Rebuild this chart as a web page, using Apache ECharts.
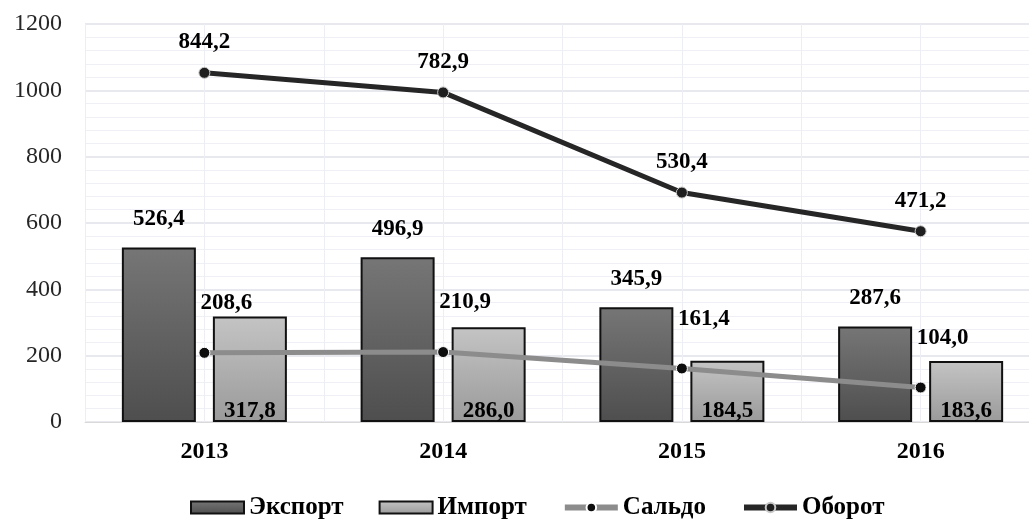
<!DOCTYPE html>
<html>
<head>
<meta charset="utf-8">
<script src="https://cdn.jsdelivr.net/npm/echarts@6/dist/echarts.min.js"></script>
<style>
html,body{margin:0;padding:0;background:#fff;overflow:hidden;width:1029px;height:519px;}
#c{width:1040px;height:519px;}
</style>
</head>
<body>
<div id="c"></div>
<script>
const years = ['2013', '2014', '2015', '2016'];
const exportVals = [526.4, 496.9, 345.9, 287.6];
const importVals = [317.8, 286.0, 184.5, 183.6];
const saldoVals = [208.6, 210.9, 161.4, 104.0];
const oborotVals = [844.2, 782.9, 530.4, 471.2];
const seriesNames = ['Экспорт', 'Импорт', 'Сальдо', 'Оборот'];

const FONT = '"Liberation Serif", "Times New Roman", serif';
const fmt = p => p.value.toFixed(1).replace('.', ',');
const labelBase = { show: true, fontFamily: FONT, fontSize: 23, fontWeight: 'bold', color: '#000', formatter: fmt };

const chart = echarts.init(document.getElementById('c'));
chart.setOption({
  animation: false,
  backgroundColor: '#fff',
  grid: { left: 85, right: 0, top: 24, bottom: 97, containLabel: false },
  legend: {
    left: 185, top: 490,
    itemWidth: 53, itemHeight: 12, itemGap: 35,
    textStyle: { fontFamily: FONT, fontSize: 25, fontWeight: 'bold', color: '#000' },
    data: [
      { name: seriesNames[0], icon: 'rect' },
      { name: seriesNames[1], icon: 'rect' },
      { name: seriesNames[2], lineStyle: { width: 6 } },
      { name: seriesNames[3], lineStyle: { width: 6 } }
    ]
  },
  xAxis: [{
    type: 'category', data: years,
    axisLine: { show: true, lineStyle: { color: '#d9d9d9', width: 1 } },
    axisTick: { show: false },
    axisLabel: { fontFamily: FONT, fontSize: 24, fontWeight: 'bold', color: '#000', margin: 18 },
    splitLine: { show: true, lineStyle: { color: '#dfe2ea', width: 1 } }
  }, {
    type: 'value', min: 0, max: 8, interval: 1, position: 'bottom',
    axisLine: { show: false }, axisTick: { show: false }, axisLabel: { show: false },
    splitLine: { show: true, lineStyle: { color: '#eceef4', width: 1 } }
  }],
  yAxis: {
    type: 'value', min: 0, max: 1200, interval: 200,
    axisLine: { show: false }, axisTick: { show: false },
    axisLabel: { fontFamily: FONT, fontSize: 24, color: '#262626', margin: 23, formatter: v => String(v) },
    splitLine: { show: true, lineStyle: { color: '#dfe2ea', width: 1.5 } },
    minorTick: { show: false, splitNumber: 5 },
    minorSplitLine: { show: true, lineStyle: { color: '#eef0f5', width: 1 } }
  },
  series: [
    {
      name: seriesNames[0], type: 'bar', data: exportVals, barWidth: 74, barGap: '23%',
      itemStyle: {
        color: new echarts.graphic.LinearGradient(0, 0, 0, 1, [
          { offset: 0, color: '#767676' }, { offset: 1, color: '#4e4e4e' }
        ]),
        borderColor: '#111', borderWidth: 2
      },
      label: Object.assign({}, labelBase, { position: 'top', distance: 17 }),
      z: 2
    },
    {
      name: seriesNames[1], type: 'bar', data: importVals, barWidth: 74,
      itemStyle: {
        color: new echarts.graphic.LinearGradient(0, 0, 0, 1, [
          { offset: 0, color: '#c4c4c4' }, { offset: 1, color: '#9a9a9a' }
        ]),
        borderColor: '#111', borderWidth: 2
      },
      label: Object.assign({}, labelBase, { position: 'insideBottom', distance: -1 }),
      z: 2
    },
    {
      name: seriesNames[2], type: 'line', stack: 'lines', data: saldoVals,
      lineStyle: { color: '#8c8c8c', width: 5 },
      itemStyle: { color: '#0d0d0d', borderColor: '#ffffff', borderWidth: 1 },
      symbol: 'circle', symbolSize: 11,
      label: Object.assign({}, labelBase, { position: 'top', distance: 20, offset: [22, -12] }),
      z: 5
    },
    {
      name: seriesNames[3], type: 'line', stack: 'lines', data: oborotVals,
      lineStyle: { color: '#262626', width: 5 },
      itemStyle: { color: '#1f1f1f', borderColor: '#c8c8c8', borderWidth: 1 },
      symbol: 'circle', symbolSize: 11,
      label: Object.assign({}, labelBase, { position: 'top', distance: 13 }),
      z: 6
    }
  ]
});
</script>
</body>
</html>
